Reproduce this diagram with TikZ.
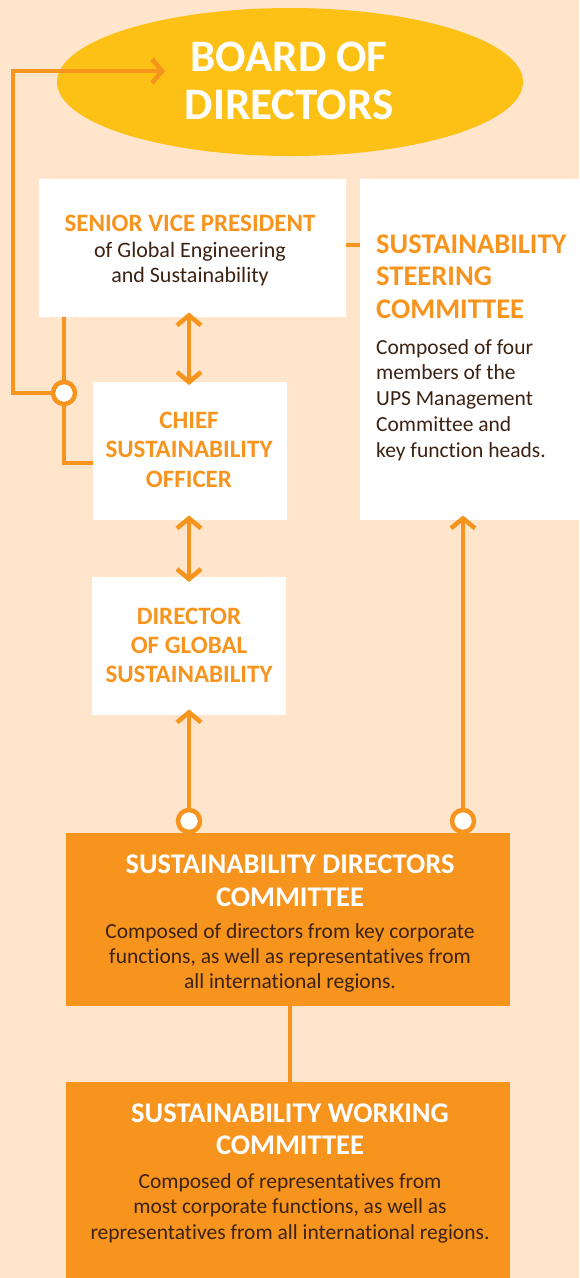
\documentclass[tikz,border=0pt]{standalone}
\usepackage{fontspec}
\setmainfont{Carlito}[Ligatures=NoCommon]
\usetikzlibrary{arrows.meta,shapes.geometric}
\definecolor{bg}{RGB}{254,229,203}
\definecolor{gold}{RGB}{253,192,20}
\definecolor{org}{RGB}{247,148,30}
\definecolor{ink}{RGB}{60,34,18}
\tikzset{
  box/.style={rectangle, fill=white, draw=none, inner sep=0pt, anchor=north west},
  obox/.style={rectangle, fill=org, draw=none, inner sep=0pt, anchor=north west},
  conn/.style={draw=org, line width=4.5pt},
  barb/.tip={Straight Barb[length=10pt, width=24pt]},
  circ/.style={circle, draw=org, fill=white, line width=4.5pt, minimum size=22pt, inner sep=0pt},
  txt/.style={inner sep=0pt, anchor=base, align=center},
  ltxt/.style={inner sep=0pt, anchor=base west, align=left},
}
\begin{document}
\begin{tikzpicture}[x=1pt, y=-1pt]
\clip (0,0) rectangle (579,1278);
\fill[bg] (0,0) rectangle (579,1278);
% ellipse
\node[ellipse, fill=gold, inner sep=0pt, minimum width=466pt, minimum height=148pt] (board) at (290,82) {};
% boxes
\node[box, minimum width=307pt, minimum height=138pt] (svp) at (39,179) {};
\node[box, minimum width=219pt, minimum height=341pt] (steer) at (360,179) {};
\node[box, minimum width=194pt, minimum height=138pt] (cso) at (93,382) {};
\node[box, minimum width=194pt, minimum height=138pt] (dir) at (92,577) {};
\node[obox, minimum width=444pt, minimum height=173pt] (sdc) at (66,833) {};
\node[obox, minimum width=444pt, minimum height=196pt] (swc) at (66,1082) {};
% coordinates
\coordinate (btip) at (165,71);
\coordinate (lc) at (13,71);
\coordinate (cl) at (93,463);
\coordinate (sv) at (346,245);
% connectors
\draw[conn] (svp.south -| 64,0) -- (64,393) |- (cl);
\node[circ] (c1) at (64,393) {};
\draw[conn, -{barb}] (c1.west) -| (lc) -- (btip);
\draw[conn] (sv) -- (steer.west |- sv);
\node[circ] (c2) at (189,821) {};
\node[circ] (c3) at (463,821) {};
\draw[conn, {barb}-{barb}] ([yshift=5pt]svp.south -| c2) -- ([yshift=-3pt]cso.north -| c2);
\draw[conn, {barb}-{barb}] ([yshift=5pt]cso.south -| c2) -- ([yshift=-5pt]dir.north -| c2);
\draw[conn, -{barb}] (c2.north) -- ([yshift=6pt]dir.south -| c2);
\draw[conn, -{barb}] (c3.north) -- ([yshift=5pt]steer.south -| c3);
\draw[conn] (sdc.south -| 290,0) -- (swc.north -| 290,0);
% texts (anchor = baseline of last line)
\node[txt, text=white, font=\bfseries\fontsize{45}{48}\selectfont] (tboard) at (289,119) {BOARD OF\\DIRECTORS};
\node[txt, text=org, font=\bfseries\fontsize{25}{26}\selectfont] (tsvph) at (190,231) {SENIOR VICE PRESIDENT};
\node[txt, text=ink, font=\fontsize{22}{25}\selectfont] (tsvpb) at (190,282) {of Global Engineering\\and Sustainability};
\node[ltxt, text=org, font=\bfseries\fontsize{28.5}{32.5}\selectfont] (tsth) at (376,318) {SUSTAINABILITY\\STEERING\\COMMITTEE};
\node[ltxt, text=ink, font=\fontsize{21.5}{25.7}\selectfont] (tstb) at (376,457) {Composed of four\\members of the\\UPS Management\\Committee and\\key function heads.};
\node[txt, text=org, font=\bfseries\fontsize{25}{29.5}\selectfont] (tcso) at (189,487) {CHIEF\\SUSTAINABILITY\\OFFICER};
\node[txt, text=org, font=\bfseries\fontsize{25}{29}\selectfont] (tdir) at (189,682) {DIRECTOR\\OF GLOBAL\\SUSTAINABILITY};
\node[txt, text=white, font=\bfseries\fontsize{28.5}{33}\selectfont] (tsdch) at (290,906) {SUSTAINABILITY DIRECTORS\\COMMITTEE};
\node[txt, text=ink, font=\fontsize{21.5}{25}\selectfont] (tsdcb) at (290,988) {Composed of directors from key corporate\\functions, as well as representatives from\\all international regions.};
\node[txt, text=white, font=\bfseries\fontsize{28.5}{32}\selectfont] (tswch) at (290,1154) {SUSTAINABILITY WORKING\\COMMITTEE};
\node[txt, text=ink, font=\fontsize{21.5}{25.5}\selectfont] (tswcb) at (290,1239) {Composed of representatives from\\most corporate functions, as well as\\representatives from all international regions.};
\end{tikzpicture}
\end{document}
